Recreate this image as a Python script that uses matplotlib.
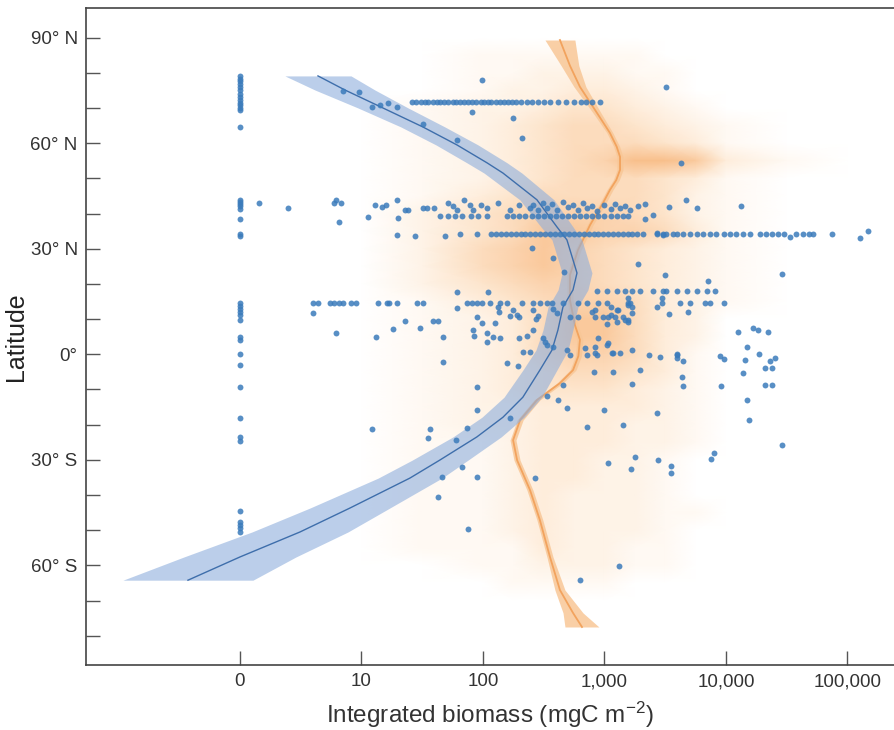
import numpy as np
import matplotlib
matplotlib.use("Agg")
import matplotlib.pyplot as plt
from matplotlib.colors import LinearSegmentedColormap
from matplotlib.ticker import FixedLocator, NullLocator

plt.rcParams['font.family'] = ['Liberation Sans', 'DejaVu Sans']
plt.rcParams['mathtext.fontset'] = 'custom'
plt.rcParams['mathtext.rm'] = 'Liberation Sans'
plt.rcParams['mathtext.it'] = 'Liberation Sans:italic'

# ---------------- data ----------------
x_ticks = [0, 10, 100, 1000, 10000, 100000]
x_tick_labels = ['0', '10', '100', '1,000', '10,000', '100,000']
y_ticks = [90, 60, 30, 0, -30, -60]
y_tick_labels = ['90° N', '60° N', '30° N', '0°', '30° S', '60° S']
y_minor = [80, 70, 50, 40, 20, 10, -10, -20, -40, -50, -70, -80]

# blue fit (biomass vs latitude) with confidence band
blue_fit_lat = [79.1, 75.1, 70.0, 64.6, 59.5, 54.4, 51.5, 43.9, 36.2, 32.5, 23.1, 18.3, 13.4,
                6.9, 1.2, -4.5, -12.2, -17.9, -23.5, -30.1, -35.2, -43.7, -50.5, -57.6, -64.2]
blue_fit = [6.42, 8.64, 15.0, 32.0, 61.0, 108, 146, 278, 406, 491, 594, 551, 455,
            414, 370, 294, 213, 146, 89, 44, 25, 9.05, 4.94, 0.0, -4.28]
blue_fit_lo = [3.70, 6.17, 9.71, 21.1, 41.0, 73.8, 102, 201, 300, 370, 448, 415, 343,
               312, 273, 213, 149, 98, 56.6, 26.1, 13.7, 5.76, 0.99, -4.61, -9.63]
blue_fit_hi = [9.14, 12.9, 24.2, 48.6, 91.0, 158, 209, 384, 551, 652, 789, 731, 604,
               550, 501, 406, 305, 218, 141, 75.2, 45.9, 17.1, 8.89, 4.61, 1.07]

# orange fit with confidence band
orange_fit_lat = [89.3, 82.0, 76.0, 68.6, 62.9, 59.0, 56.1, 52.4, 49.5, 46.7, 43.0, 36.7, 29.6,
                  22.5, 15.4, 8.3, 4.1, -0.5, -4.5, -8.2, -13.0, -18.7, -24.4, -30.1, -38.6,
                  -47.1, -57.6, -67.0, -73.5, -77.5]
orange_fit = [430, 520, 628, 867, 1109, 1260, 1343, 1343, 1250, 1109, 973, 760, 605,
              520, 520, 571, 628, 610, 551, 430, 278, 202, 177, 191, 244,
              294, 356, 430, 551, 653]
orange_fit_lo = [324, 440, 561, 804, 1047, 1190, 1268, 1268, 1180, 1047, 919, 718, 571,
                 491, 491, 539, 593, 576, 520, 406, 263, 191, 167, 180, 230,
                 278, 336, 391, 456, 473]
orange_fit_hi = [571, 615, 703, 935, 1174, 1335, 1422, 1422, 1325, 1174, 1030, 805, 641,
                 551, 551, 605, 665, 646, 583, 455, 294, 214, 187, 202, 258,
                 311, 377, 473, 666, 901]

# orange point cloud, estimated density (0-9) per latitude row and biomass column
cloud_biomass = [5, 10, 31.6, 100, 178, 316, 562, 1000, 1778, 3162, 5623, 10000, 31623, 100000]
cloud_lat = [90, 85, 80, 75, 70, 65, 60, 55, 50, 45, 40, 35, 30, 25, 20, 15, 10, 5, 0,
             -5, -10, -15, -20, -25, -30, -35, -40, -45, -50, -55, -60, -65, -70]
cloud_density = [
    "00000000000000",
    "00011111100000",
    "00011222110000",
    "00012233210000",
    "00122344321000",
    "00123455432100",
    "00123455543100",
    "00123456887310",
    "00123455543100",
    "00134555542100",
    "00245666542100",
    "00245776653100",
    "00256765432100",
    "00256765432100",
    "00245665432100",
    "00134566532100",
    "00123577532000",
    "00123577532000",
    "00123566531000",
    "00123455431000",
    "00123444321000",
    "00122333321000",
    "00122333221000",
    "00112333221000",
    "00112332210000",
    "00112332210000",
    "00112322210000",
    "00112322211000",
    "00112322210000",
    "00111322110000",
    "00011222110000",
    "00001111000000",
    "00000000000000",
]

# blue observations with zero biomass (latitudes)
zero_lat = [79.1, 78.2, 77.7, 76.8, 76.0, 75.1, 73.9, 73.1, 72.3, 71.5, 70.7, 70.1, 69.4, 64.6,
            43.9, 43.3, 42.6, 42.0, 41.2, 38.4, 34.2, 33.6, 14.6, 13.8, 12.9, 12.1, 11.1, 9.8,
            4.9, 4.1, 0.1, -3.0, -9.3, -18.1, -23.5, -24.6, -44.5, -47.7, -48.6, -49.5, -50.5]

# transects sampled along one latitude: log10 biomass values
row72_lat = 71.7
row72_log = [1.42, 1.45, 1.49, 1.52, 1.55, 1.59, 1.62, 1.65, 1.68, 1.71, 1.75, 1.78, 1.81, 1.84,
             1.88, 1.91, 1.94, 1.98, 2.01, 2.04, 2.07, 2.11, 2.14, 2.17, 2.21, 2.24, 2.27, 2.31,
             2.36, 2.40, 2.45, 2.50, 2.55, 2.62, 2.68, 2.75, 2.81, 2.85, 2.90, 2.96]
row39_lat = 39.4
row39_log = [1.65, 1.71, 1.77, 1.83, 1.90, 1.96, 2.03, 2.20, 2.25, 2.30, 2.35, 2.40, 2.45, 2.50,
             2.55, 2.60, 2.65, 2.70, 2.75, 2.80, 2.85, 2.90, 2.95, 3.00, 3.05, 3.10, 3.15, 3.19]
row34_lat = 34.2
row34_log = [1.81, 1.95, 2.07, 2.11, 2.15, 2.19, 2.23, 2.27, 2.31, 2.35, 2.39, 2.43, 2.47, 2.51,
             2.55, 2.59, 2.63, 2.67, 2.71, 2.75, 2.79, 2.83, 2.87, 2.91, 2.95, 2.99, 3.03, 3.07,
             3.11, 3.15, 3.19, 3.23, 3.27, 3.32, 3.43, 3.48, 3.51, 3.56, 3.60, 3.65, 3.70, 3.76,
             3.81, 3.87, 3.92, 3.98, 4.03, 4.08, 4.14, 4.20, 4.28, 4.33, 4.38, 4.43, 4.48, 4.58,
             4.63, 4.68, 4.72, 4.87]
row18_lat = 18.0
row18_log = [2.94, 3.02, 3.10, 3.17, 3.23, 3.29, 3.40, 3.48, 3.51, 3.60, 3.68, 3.76, 3.84, 3.91]
row15_lat = 14.6
row15_log = [0.78, 0.81, 0.87, 0.89, 0.91, 0.93, 0.96, 0.98, 1.14, 1.21, 1.23, 1.29, 1.46, 1.51,
             1.87, 1.91, 1.95, 1.99, 2.06, 2.14, 2.20, 2.32, 2.41, 2.47, 2.53, 2.57, 2.66, 2.78,
             2.86, 2.95, 3.02, 3.19, 3.21, 3.47, 3.62, 3.70, 3.83, 3.87, 3.98]

# scattered observations (latitude, log10 biomass)
scatter_lat = [74.8, 74.5, 70.3, 70.9, 71.4, 70.3, 78.0, 68.9, 67.2, 61.5, 65.5, 60.9, 76.0, 54.4,
               43.0, 41.6, 43.0, 43.9, 43.0, 37.6, 42.4, 41.9, 42.4, 43.9, 41.0, 41.0, 41.6, 41.6,
               41.6, 43.0, 42.2, 41.0, 43.9, 42.4, 41.0, 42.4, 41.6, 43.0, 41.0, 42.4, 41.6,
               42.4, 41.0, 43.0, 41.6, 42.7, 41.0, 43.3, 41.9, 42.4, 41.0, 43.0, 41.6, 42.2, 40.8,
               42.4, 41.3, 42.7, 41.6, 42.2, 41.0, 42.2, 42.7, 39.6, 41.9, 43.9, 41.6, 42.2,
               39.0, 38.7, 38.5, 33.9, 33.6, 33.6, 34.5, 33.9, 33.4, 33.1, 35.0,
               30.2, 27.4, 23.4, 25.7, 22.5, 20.8, 22.8, 17.7, 17.7,
               11.7, 13.2, 13.4, 12.0, 10.6, 8.9, 8.9, 9.5, 9.5, 9.5, 10.9, 10.6, 12.6, 10.0,
               7.2, 7.5, 6.9, 5.2, 6.1, 4.9, 4.6, 6.1, 4.9, 4.9, 4.6, 5.2, 6.9, 3.5, 4.6, 2.6,
               2.1, 0.7, 0.7, -2.2, -2.5, -3.3, 12.6, 11.2, 10.9, 12.9, 11.7, 10.6, 10.6, 12.0,
               10.6, 10.6, 10.6, 10.6, 12.6, 9.8, 14.0, 13.4, 3.5, 1.2, -0.2, 1.8, -0.2, 2.1,
               -0.2, 2.6, 0.4, 0.4, 1.2, -0.2, -0.8, -0.2, -5.0, -5.0, -4.5, -8.4, -8.7, -9.3,
               -11.9, -13.0, -15.3, -15.8, -16.7, -18.1, -20.1, -20.7, -20.9, -15.8, -21.2,
               -21.2, -23.8, -24.4, -32.0, -34.9, -34.9, -40.6, -49.7, -35.1, -64.2, -60.2,
               -30.9, -29.2, -32.6, -30.1, -31.8, -33.7, -29.8, -28.1,
               16.0, 16.0, 13.4, 13.4, 11.5, 12.0, 12.6, 11.2, 12.6, 10.6, 9.2, 11.7, 8.6, 9.2,
               9.8, 6.3, 7.5, 6.9, 6.3, 4.6, 3.2, 0.4, 0.4, 0.1, -1.1, -1.9, 2.1, -0.5, -1.3,
               -1.6, 0.1, -1.9, -1.1, -6.5, -9.0, -9.0, -5.3, -3.9, -3.9, -8.7, -8.7, -13.0,
               -18.7, -25.8]
scatter_log = [0.93, 0.99, 1.09, 1.15, 1.22, 1.29, 1.99, 1.91, 2.25, 2.32, 1.51, 1.79, 3.51, 3.63,
               0.20, 0.60, 0.89, 0.90, 0.92, 0.91, 1.11, 1.17, 1.20, 1.29, 1.36, 1.38, 1.51, 1.54,
               1.60, 1.71, 1.75, 1.79, 1.84, 1.89, 1.92, 1.98, 2.03, 2.12, 2.22, 2.30, 2.39,
               2.41, 2.45, 2.49, 2.53, 2.57, 2.61, 2.66, 2.70, 2.74, 2.78, 2.82, 2.86, 2.90, 2.94,
               3.00, 3.05, 3.09, 3.13, 3.17, 3.21, 3.28, 3.33, 3.40, 3.53, 3.67, 3.76, 4.12,
               1.05, 1.30, 3.33, 1.29, 1.44, 1.69, 3.43, 3.48, 4.53, 5.10, 5.17,
               2.40, 2.58, 2.67, 3.28, 3.50, 3.85, 4.46, 1.79, 2.04,
               0.78, 1.79, 2.12, 2.13, 1.95, 1.99, 2.10, 1.36, 1.59, 1.63, 2.22, 2.30, 2.41, 2.44,
               1.26, 1.48, 1.92, 1.93, 2.03, 2.08, 2.14, 0.90, 1.12, 1.67, 2.30, 2.36, 2.41, 2.03,
               2.49, 2.53, 2.58, 2.33, 2.39, 1.67, 2.20, 2.29, 2.25, 2.28, 2.45, 2.58, 2.61, 2.72,
               2.78, 2.90, 2.92, 2.99, 3.03, 3.09, 3.11, 3.17, 3.19, 3.23, 2.51, 2.69, 2.72, 2.84,
               2.86, 2.92, 2.94, 3.02, 3.07, 3.13, 3.23, 3.37, 3.46, 3.60, 2.91, 3.07, 3.29, 3.23,
               2.66, 1.95, 2.53, 2.62, 2.69, 3.00, 3.43, 2.22, 3.15, 2.86, 1.87, 1.95, 1.09,
               1.56, 1.55, 1.78, 1.83, 1.66, 1.95, 1.63, 1.88, 2.43, 2.80, 3.12,
               3.03, 3.25, 3.22, 3.44, 3.55, 3.55, 3.88, 3.90,
               3.47, 3.19, 3.05, 3.43, 3.53, 3.69, 2.92, 3.05, 3.10, 3.15, 3.19, 3.23, 3.02, 3.10,
               3.19, 4.10, 4.22, 4.26, 4.35, 2.95, 3.03, 2.92, 3.06, 3.60, 3.60, 3.65, 4.17, 3.95,
               3.98, 4.16, 4.27, 4.36, 4.40, 3.64, 3.65, 3.96, 4.14, 4.32, 4.38, 4.32, 4.38, 4.17,
               4.19, 4.46]

# ---------------- figure ----------------
fig = plt.figure(figsize=(8.94, 7.30), dpi=100)
ax = fig.add_axes([86 / 894, 1 - 665 / 730, 1 - 86 / 894, (665 - 8) / 730])
ax.set_xscale('symlog', linthresh=10, linscale=0.9)

# orange cloud as estimated density (opaque tint over the white background)
dens = np.array([[int(c) for c in row] for row in cloud_density], dtype=float)
cmap = LinearSegmentedColormap.from_list(
    'orng', [(0.0, (1.0, 1.0, 1.0)), (0.33, (0.996, 0.93, 0.86)),
             (0.62, (0.988, 0.845, 0.71)), (1.0, (0.968, 0.71, 0.48))])
ax.pcolormesh(np.array(cloud_biomass), np.array(cloud_lat), dens, shading='gouraud',
              cmap=cmap, vmin=0, vmax=9, zorder=1, antialiased=False, edgecolors='none')

# orange fit
ax.fill_betweenx(orange_fit_lat, orange_fit_lo, orange_fit_hi, color='#f8c797', alpha=0.85,
                 lw=0, zorder=2)
ax.plot(orange_fit, orange_fit_lat, color='#f2a35e', lw=1.3, zorder=3)

# blue fit
ax.fill_betweenx(blue_fit_lat, blue_fit_lo, blue_fit_hi, color='#8eaedc', alpha=0.6,
                 lw=0, zorder=4)
ax.plot(blue_fit, blue_fit_lat, color='#3e6eab', lw=1.0, zorder=5)

# blue points
pt = dict(s=18, color='#3b7bbb', alpha=0.85, lw=0, zorder=6)
ax.scatter(np.zeros(len(zero_lat)), zero_lat, **pt)
for lat, vals in [(row72_lat, row72_log), (row39_lat, row39_log), (row34_lat, row34_log),
                  (row18_lat, row18_log), (row15_lat, row15_log)]:
    v = np.array(vals)
    ax.scatter(10.0 ** v, np.full(len(v), lat), **pt)
ax.scatter(10.0 ** np.array(scatter_log), scatter_lat, **pt)

# axes styling
ax.set_xlim(-18.5, 241500)
ax.set_ylim(-88.3, 98.4)
ax.xaxis.set_major_locator(FixedLocator(x_ticks))
ax.xaxis.set_minor_locator(NullLocator())
ax.set_xticklabels(x_tick_labels)
ax.yaxis.set_major_locator(FixedLocator(y_ticks))
ax.yaxis.set_minor_locator(FixedLocator(y_minor))
ax.set_yticklabels(y_tick_labels)
ax.tick_params(axis='both', which='both', direction='in', length=10, width=1.0,
               color='#555555', labelcolor='#333333', labelsize=13.5, pad=6)
ax.tick_params(axis='x', which='minor', length=0)
ax.spines['right'].set_visible(False)
for s in ['left', 'bottom', 'top']:
    ax.spines[s].set_color('#444444')
    ax.spines[s].set_linewidth(1.2)
    ax.spines[s].set_zorder(10)

ax.set_ylabel('Latitude', fontsize=18, color='#222222')
ax.yaxis.set_label_coords(-58 / 808, 0.5)
ax.set_xlabel('Integrated biomass (mgC m$^{\u2212 2}$)', fontsize=17.5, color='#333333',
              labelpad=7)

fig.savefig('out.png', dpi=100)
